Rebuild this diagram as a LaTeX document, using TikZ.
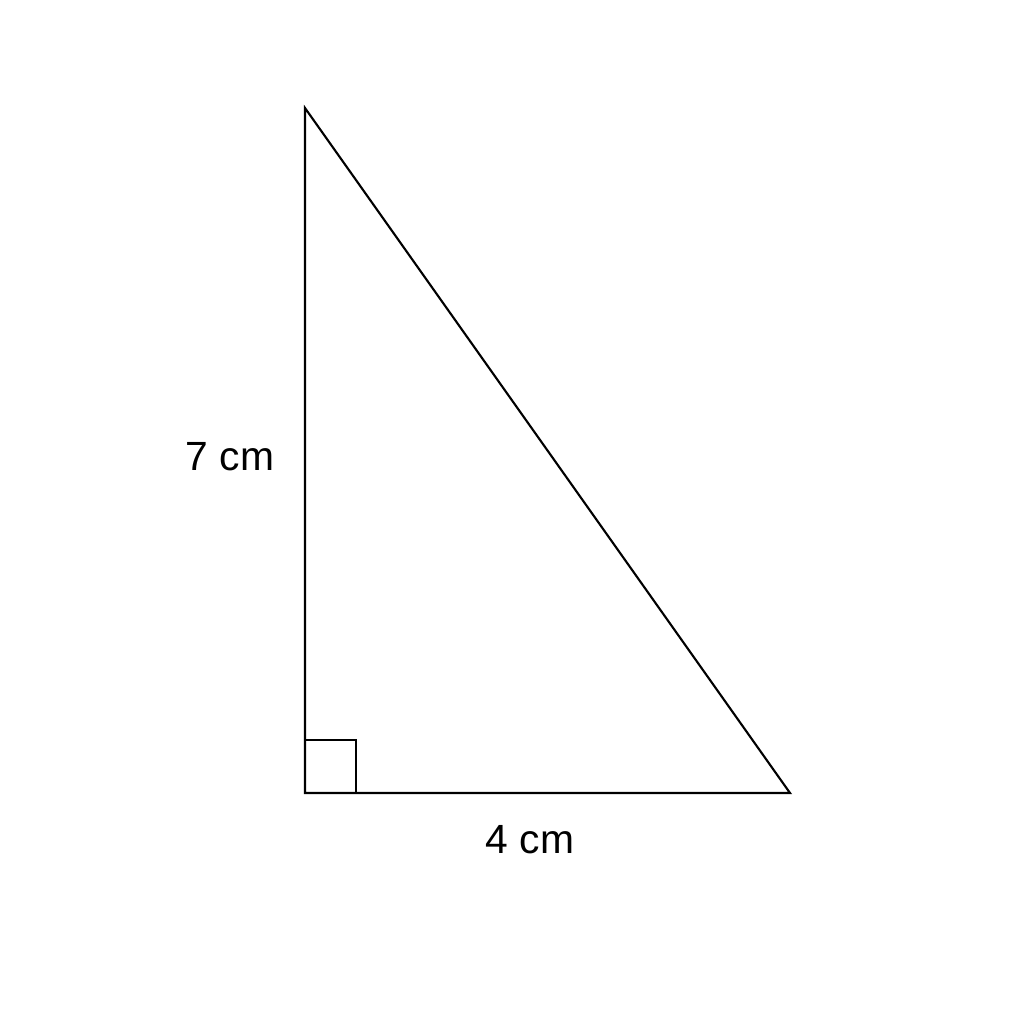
\documentclass[tikz,border=0pt]{standalone}
\usepackage{fontspec}
\setmainfont{Liberation Sans}
\begin{document}
\begin{tikzpicture}[x=0.01cm,y=-0.01cm,
  edge/.style={draw=black,line width=0.6pt,line join=miter},
  lbl/.style={font=\fontsize{11.6pt}{13pt}\selectfont,inner sep=0pt,anchor=base}]
\useasboundingbox[fill=white] (0,0) rectangle (1024,1024);
\coordinate (A) at (305,108);
\coordinate (B) at (305,793);
\coordinate (C) at (790,793);
\draw[edge] (A) -- (B) -- (C) -- cycle;
\coordinate (S1) at (305,740);
\coordinate (S2) at (356,740);
\coordinate (S3) at (356,793);
\draw[edge] (S1) -- (S2) -- (S3);
\node[lbl] (h) at (230,470) {7 cm};
\node[lbl] (w) at (530,853) {4 cm};
\end{tikzpicture}
\end{document}
